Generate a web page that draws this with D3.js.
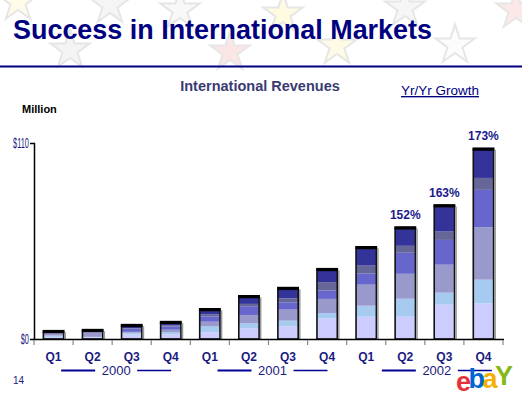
<!DOCTYPE html>
<html>
<head>
<meta charset="utf-8">
<script src="https://cdn.jsdelivr.net/npm/d3@7"></script>
<style>
  body { margin: 0; background: #fff; }
  svg { display: block; font-family: Arial, "Liberation Sans", sans-serif; }
</style>
</head>
<body>
<div class="chart"></div>
<script>
// Chart data (US$ million)
const quarters = ['Q1', 'Q2', 'Q3', 'Q4', 'Q1', 'Q2', 'Q3', 'Q4', 'Q1', 'Q2', 'Q3', 'Q4'];
const years = ['2000', '2001', '2002'];
const growth = [null, null, null, null, null, null, null, null, null, 152, 163, 173];
const yTicks = [0, 110];

// stacked segments, bottom to top
const seg1 = [1.2, 0.9, 2.5, 2.7, 3.7, 6.0, 7.1, 11.6, 12.5, 12.5, 19.3, 20.0];
const seg2 = [0.7, 0.3, 1.0, 1.2, 3.4, 2.8, 3.2, 3.0, 6.2, 10.1, 6.7, 13.3];
const seg3 = [1.2, 2.8, 0.5, 1.3, 2.6, 4.7, 6.2, 7.9, 11.8, 14.0, 15.7, 29.4];
const seg4 = [0.6, 0.3, 1.8, 1.9, 3.0, 4.9, 4.1, 4.7, 6.2, 11.8, 13.9, 21.0];
const seg5 = [0.0, 0.0, 0.3, 0.5, 1.1, 1.3, 2.2, 4.7, 4.5, 3.9, 4.7, 6.7];
const seg6 = [0.0, 0.0, 1.0, 1.2, 2.2, 3.6, 5.1, 6.6, 9.6, 9.6, 14.0, 15.7];

const segColors = ['#ccccff', '#a6caf0', '#9999cc', '#6666cc', '#666699', '#333399'];

const W = 522, H = 393;
const navy = '#000080';

const svg = d3.select('.chart')
    .append('svg')
        .attr('width', W)
        .attr('height', H);

// Faint stars in the header background
const stars = [
    [18, 2, '#fffbea'], [110, 5, '#f5f5f5'], [180, 10, '#f8f8f8'], [283, 14, '#fffbe0'],
    [405, 8, '#f6f6f6'], [516, 10, '#fbe8e8'], [70, 50, '#f4f4f4'], [230, 52, '#fbe6e6'],
    [337, 46, '#fffae6'], [455, 45, '#fcfcfc']
];
svg.append('g')
    .selectAll('path')
    .data(stars)
    .enter()
        .append('path')
        .attr('d', d3.symbol(d3.symbolStar, 480))
        .attr('transform', d => `translate(${d[0]},${d[1]})`)
        .style('fill', d => d[2])
        .attr('stroke', '#e6e6e6')
        .attr('stroke-width', 2);

// Title and rule
svg.append('text')
    .attr('x', 13)
    .attr('y', 39)
    .attr('textLength', 419)
    .attr('lengthAdjust', 'spacingAndGlyphs')
    .style('font-size', '27px')
    .style('font-weight', 'bold')
    .style('fill', navy)
    .text('Success in International Markets');
svg.append('rect')
    .attr('x', 0).attr('y', 65.5)
    .attr('width', W).attr('height', 2)
    .style('fill', navy);

svg.append('text')
    .attr('x', 260)
    .attr('y', 91)
    .attr('text-anchor', 'middle')
    .style('font-size', '14.5px')
    .style('font-weight', 'bold')
    .style('fill', '#3a3a72')
    .text('International Revenues');
svg.append('text')
    .attr('x', 401)
    .attr('y', 95)
    .style('font-size', '13.5px')
    .style('fill', navy)
    .style('text-decoration', 'underline')
    .text('Yr/Yr Growth');
svg.append('text')
    .attr('x', 22)
    .attr('y', 113)
    .style('font-size', '11px')
    .style('font-weight', 'bold')
    .style('fill', '#000')
    .text('Million');

// Scales
const xScale = d3.scaleBand()
    .domain(d3.range(quarters.length))
    .range([34, 503])
    .paddingInner(0.48)
    .paddingOuter(0.24);
const yScale = d3.scaleLinear()
    .domain([0, 110])
    .range([339, 143]);

// Stack the segments
const keys = ['s1', 's2', 's3', 's4', 's5', 's6'];
const rows = quarters.map((q, i) => ({
    i: i, s1: seg1[i], s2: seg2[i], s3: seg3[i], s4: seg4[i], s5: seg5[i], s6: seg6[i]
}));
const stacked = d3.stack().keys(keys)(rows);

const bw = xScale.bandwidth();
svg.append('g')
    .selectAll('g')
    .data(stacked)
    .enter()
        .append('g')
        .style('fill', (d, k) => segColors[k])
        .selectAll('rect')
        .data(d => d)
        .enter()
            .append('rect')
            .attr('x', d => xScale(d.data.i))
            .attr('y', d => yScale(d[1]))
            .attr('width', bw)
            .attr('height', d => yScale(d[0]) - yScale(d[1]));

// Frames around each bar, thick cap on top
const totals = rows.map(r => keys.reduce((s, k) => s + r[k], 0));
const frames = svg.append('g');
frames.selectAll('rect.frame')
    .data(totals)
    .enter()
        .append('rect')
        .attr('class', 'frame')
        .attr('x', (d, i) => xScale(i))
        .attr('y', d => yScale(d))
        .attr('width', bw)
        .attr('height', d => yScale(0) - yScale(d))
        .style('fill', 'none')
        .attr('stroke', '#111')
        .attr('stroke-width', 1.6);
frames.selectAll('rect.shade')
    .data(totals)
    .enter()
        .append('rect')
        .attr('class', 'shade')
        .attr('x', (d, i) => xScale(i) + bw + 0.8)
        .attr('y', d => yScale(d))
        .attr('width', 1.5)
        .attr('height', d => yScale(0) - yScale(d))
        .style('fill', '#999');
frames.selectAll('rect.cap')
    .data(totals)
    .enter()
        .append('rect')
        .attr('class', 'cap')
        .attr('x', (d, i) => xScale(i) - 0.8)
        .attr('y', d => yScale(d) - 2.5)
        .attr('width', bw + 1.6)
        .attr('height', 3)
        .style('fill', '#000');

// Growth labels
svg.append('g')
    .selectAll('text')
    .data(growth.map((g, i) => ({g: g, i: i})).filter(d => d.g !== null))
    .enter()
        .append('text')
        .attr('x', d => xScale(d.i) + bw / 2)
        .attr('y', d => yScale(totals[d.i]) - 10)
        .attr('text-anchor', 'middle')
        .style('font-size', '12px')
        .style('font-weight', 'bold')
        .style('fill', '#1a1a8c')
        .text(d => `${d.g}%`);

// Y axis
const yAxis = svg.append('g')
    .attr('transform', 'translate(34,0)')
    .call(d3.axisLeft(yScale).tickValues(yTicks).tickFormat(d => `$${d}`).tickSize(4));
yAxis.select('.domain').attr('stroke', '#000').attr('stroke-width', 1.5);
yAxis.selectAll('.tick line').attr('stroke', '#000');
yAxis.selectAll('.tick text')
    .attr('x', 0)
    .attr('transform', 'translate(-5,0) scale(0.62,1.15)')
    .attr('dy', '0.32em')
    .style('font-size', '12px')
    .style('font-family', 'Arial, sans-serif')
    .style('fill', '#1a1a80');

// X axis with ticks at band edges
const step = xScale.step();
const edge = i => xScale(0) - (step - bw) / 2 + i * step;
svg.append('line')
    .attr('x1', 33).attr('x2', 504)
    .attr('y1', 339.5).attr('y2', 339.5)
    .attr('stroke', '#000')
    .attr('stroke-width', 1.5);
svg.append('g')
    .selectAll('line')
    .data(d3.range(quarters.length + 1))
    .enter()
        .append('line')
        .attr('x1', i => edge(i)).attr('x2', i => edge(i))
        .attr('y1', 340).attr('y2', 345)
        .attr('stroke', '#888')
        .attr('stroke-width', 1.2);

svg.append('g')
    .selectAll('text')
    .data(quarters)
    .enter()
        .append('text')
        .attr('x', (d, i) => xScale(i) + bw / 2)
        .attr('y', 361)
        .attr('text-anchor', 'middle')
        .style('font-size', '12px')
        .style('font-weight', 'bold')
        .style('fill', '#1a1a80')
        .text(d => d);

// Year labels with rules either side (last group sits a little to the right)
const yearShift = j => (j === years.length - 1 ? 12 : 4);
const yearG = svg.append('g')
    .selectAll('g')
    .data(years)
    .enter()
        .append('g')
        .attr('transform', (d, j) => {
            const cx = (edge(j * 4) + edge(j * 4 + 4)) / 2 + yearShift(j);
            return `translate(${cx},0)`;
        });
yearG.append('text')
    .attr('y', 375)
    .attr('text-anchor', 'middle')
    .style('font-size', '13px')
    .style('fill', '#1a1a80')
    .text(d => d);
yearG.append('line')
    .attr('x1', -55).attr('x2', -21)
    .attr('y1', 370.5).attr('y2', 370.5)
    .attr('stroke', '#000099')
    .attr('stroke-width', 2);
yearG.append('line')
    .attr('x1', 21).attr('x2', 55)
    .attr('y1', 370.5).attr('y2', 370.5)
    .attr('stroke', '#000099')
    .attr('stroke-width', 1.5);

// Page number
svg.append('text')
    .attr('x', 13)
    .attr('y', 384)
    .style('font-size', '10px')
    .style('fill', '#1a1a80')
    .text('14');

// eBay logo
const logo = svg.append('text')
    .attr('x', 456)
    .attr('y', 391)
    .style('font-size', '27px')
    .style('font-weight', 'bold')
    .style('letter-spacing', '-2.5px');
logo.append('tspan').style('fill', '#e53238').text('e');
logo.append('tspan').style('fill', '#0064d2').attr('dy', -3).text('b');
logo.append('tspan').style('fill', '#f5af02').attr('dy', 0).text('a');
logo.append('tspan').style('fill', '#86b817').attr('dy', -3).text('Y');
</script>
</body>
</html>
